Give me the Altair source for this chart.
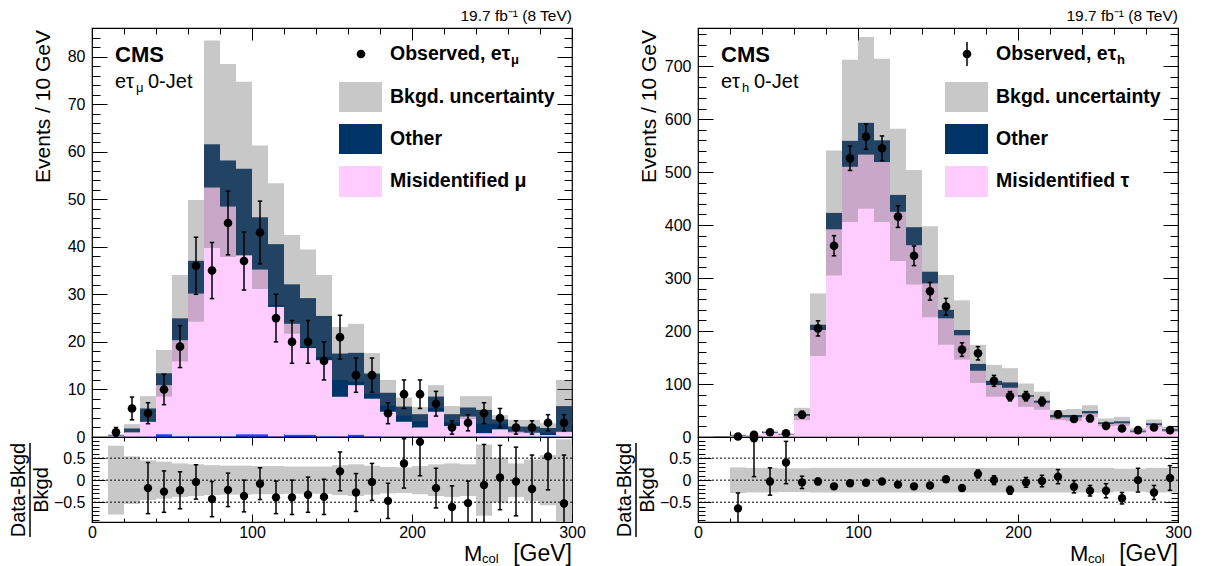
import altair as alt
import pandas as pd

FONT = "Liberation Sans"
PINK = "#ffccff"
NAVY = "#003366"
BLUE = "#2040ff"
BAND = "#616161"
RBAND = "#c8c8c8"

BIN_LO = [10, 20, 30, 40, 50, 60, 70, 80, 90, 100, 110, 120, 130, 140, 150,
          160, 170, 180, 190, 200, 210, 220, 230, 240, 250, 260, 270, 280, 290]

# ---------------- e tau_mu (left) ----------------
L_EWK = [0.1, 0.1, 0.1, 0.6, 0.15, 0.15, 0.15, 0.15, 0.6, 0.6, 0.15, 0.5, 0.5, 0.15, 0.15,
         0.5, 0.15, 0.1, 0.1, 0.1, 0.1, 0.1, 0.1, 0.1, 0.1, 0.1, 0.1, 0.1, 0.1]
L_MISID = [0.2, 0.9, 3.1, 10.3, 20.2, 30.0, 52.3, 48.3, 37.6, 34.6, 27.2, 23.3, 18.2, 16.0, 8.3,
           10.4, 7.9, 5.2, 3.1, 1.9, 5.2, 2.2, 4.2, 0.7, 1.5, 1.0, 0.8, 0.3, 1.0]
L_OTHER = [0.1, 0.8, 2.8, 2.5, 4.6, 6.9, 9.1, 9.7, 18.2, 11.0, 13.2, 8.3, 10.5, 9.3, 9.1,
           6.8, 5.3, 4.0, 3.2, 2.8, 3.2, 2.5, 1.9, 4.9, 2.1, 1.1, 1.3, 1.5, 5.4]
L_UNC = [0.2, 0.9, 2.6, 4.9, 9.1, 12.8, 21.8, 20.3, 18.3, 15.1, 12.8, 10.4, 10.2, 8.6, 5.6,
         6.1, 4.3, 2.7, 1.9, 1.5, 2.4, 1.7, 2.4, 2.9, 0.9, 1.4, 1.4, 1.0, 5.5]
L_DATA = [1, 6, 5, 10, 19, 36, 35, 45, 37, 43, 25, 20, 20, 16, 21,
          13, 13, 5, 9, 9, 7, 2, 3, 5, 4, 2, 2, 3, 3]
L_DERR = [1.0, 2.4, 2.2, 3.2, 4.4, 6.0, 5.9, 6.7, 6.1, 6.6, 5.0, 4.5, 4.5, 4.0, 4.6,
          3.6, 3.6, 2.2, 3.0, 3.0, 2.6, 1.4, 1.7, 2.2, 2.0, 1.4, 1.4, 1.7, 1.7]
L_RATIO = [None, None, -0.18, -0.26, -0.23, -0.04, -0.43, -0.22, -0.36, -0.08, -0.39, -0.39, -0.33, -0.38, 0.20,
           -0.28, -0.04, -0.47, 0.38, 0.87, -0.18, -0.61, -0.52, -0.11, 0.06, -0.03, -0.20, 0.54, -0.53]
L_RERR = [None, None, 0.58, 0.47, 0.42, 0.39, 0.40, 0.38, 0.36, 0.36, 0.37, 0.39, 0.40, 0.40, 0.44,
          0.43, 0.42, 0.40, 0.56, 0.77, 0.45, 0.48, 0.50, 0.92, 0.73, 0.78, 0.77, 0.76, 1.10]
L_RBAND = [0.78, 0.54, 0.45, 0.42, 0.38, 0.36, 0.34, 0.33, 0.33, 0.32, 0.32, 0.31, 0.31, 0.31, 0.34,
           0.36, 0.33, 0.30, 0.29, 0.32, 0.36, 0.38, 0.36, 0.81, 0.51, 0.38, 0.47, 0.57, 0.93]

# ---------------- e tau_h (right) ----------------
R_MISID = [0.5, 2, 1.5, 8, 4.5, 40, 202, 392, 510, 533, 519, 425, 362, 290, 224,
           192, 125, 98, 93, 76, 64.7, 37, 37, 44.6, 24.5, 25.8, 10, 22.6, 12]
R_OTHER = [0.5, 1, 0.5, 1.3, 0.7, 3.4, 10, 31, 49, 60, 41, 32, 34, 22, 16,
           10, 13, 8, 10, 3, 3.8, 4.5, 4.5, 4.4, 3.2, 3.8, 2, 3.2, 2.5]
R_UNC = [0.5, 1.5, 1, 2.7, 1.8, 11.6, 59, 118, 153, 162, 154, 125, 108, 86, 66,
         56, 36, 30, 27, 22, 17, 9.5, 11.3, 11, 7.3, 8.4, 4.4, 7.2, 5]
R_DATA = [None, 1, 4, 9, 7, 42, 205, 361, 526, 567, 545, 416, 342, 275, 246,
          165, 158, 106, 77, 77, 67, 43, 34, 35, 21, 16, 13, 18, 13]
R_DERR = [None, 1, 2, 3, 2.6, 6.5, 14.3, 19, 22.9, 23.8, 23.3, 20.4, 18.5, 16.6, 15.7,
          12.8, 12.6, 10.3, 8.8, 8.8, 8.2, 6.6, 5.8, 5.9, 4.6, 4, 3.6, 4.2, 3.6]
R_RATIO = [None, -0.64, 0.95, -0.03, 0.40, -0.05, -0.03, -0.14, -0.07, -0.06, -0.03, -0.10, -0.14, -0.12, 0.02,
           -0.18, 0.14, 0.00, -0.23, -0.05, -0.02, 0.08, -0.15, -0.24, -0.24, -0.41, 0.00, -0.28, 0.05]
R_RERR = [None, 0.35, 0.87, 0.31, 0.48, 0.14, 0.07, 0.05, 0.045, 0.045, 0.045, 0.05, 0.055, 0.06, 0.065,
          0.07, 0.09, 0.10, 0.09, 0.11, 0.13, 0.16, 0.14, 0.12, 0.16, 0.13, 0.27, 0.16, 0.28]
R_RBAND = [None, 0.29, 0.28, 0.28, 0.27, 0.27, 0.28, 0.28, 0.28, 0.28, 0.28, 0.28, 0.28, 0.28, 0.28,
           0.28, 0.28, 0.28, 0.28, 0.28, 0.28, 0.28, 0.28, 0.28, 0.28, 0.26, 0.26, 0.28, 0.28]

X_MAJOR = [0, 100, 200, 300]
X_MINOR = list(range(0, 301, 20))
RATIO_LINES = [-0.5, 0, 0.5]
RATIO_MAJOR = [-0.5, 0, 0.5]
RATIO_MINOR = [round(-0.9 + 0.1 * i, 1) for i in range(19)]

W = 480
H_MAIN = 409
H_RATIO = 85
RATIO_DOMAIN = [-0.95, 0.98]
PANEL_GAP = 126

DUMMY = pd.DataFrame({"a": [0]})


def axis_layers(xs, ys, xdom, ydom, xmaj, xmin, ymaj, ymin, xlab, ylab, xsz, ysz, yfmt):
    df = pd.DataFrame({"x": [xdom[0]], "y": [ydom[0]]})

    def mk(orient, vals, size, labels, fmt, pad):
        kw = dict(orient=orient, values=vals, tickSize=size, offset=-size, labels=labels,
                  domain=False, grid=False, title=None, tickColor="black", tickWidth=1,
                  labelFont=FONT, labelFontSize=16, labelColor="black", labelPadding=pad,
                  labelOverlap=False, labelFlush=False)
        if labels:
            kw["format"] = fmt
        return alt.Axis(**kw)

    specs = [
        ("bottom", xmaj, xsz[0], xlab, "left", ymaj, ysz[0], ylab),
        ("bottom", xmin, xsz[1], False, "left", ymin, ysz[1], False),
        ("top", xmaj, xsz[0], False, "right", ymaj, ysz[0], False),
        ("top", xmin, xsz[1], False, "right", ymin, ysz[1], False),
    ]
    out = []
    for xo, xv, xsize, xl, yo, yv, ysize, yl in specs:
        out.append(
            alt.Chart(df).mark_point(opacity=0).encode(
                x=alt.X("x:Q", scale=xs, axis=mk(xo, xv, xsize, xl, "d", 2)),
                y=alt.Y("y:Q", scale=ys, axis=mk(yo, yv, ysize, yl, yfmt, 7)),
            )
        )
    return out


def text(t, x, y, size, bold=False, align="left", baseline="middle", angle=0):
    kw = dict(text=t, font=FONT, fontSize=size, fontWeight="bold" if bold else "normal",
              align=align, baseline=baseline, color="black")
    if angle:
        kw["angle"] = angle
    return alt.Chart(DUMMY).mark_text(**kw).encode(x=alt.value(x), y=alt.value(y))


def build_panel(ewk, misid, other, unc, data, derr, ratio, rerr, rband, ymax,
                y_major, y_minor, chan_sub, misid_label, obs_bar):
    lo = BIN_LO
    hi = [v + 10 for v in lo]
    ctr = [v + 5 for v in lo]
    xs = alt.Scale(domain=[0, 300], nice=False, zero=False)
    ys = alt.Scale(domain=[0, ymax], nice=False, zero=True)
    rs = alt.Scale(domain=RATIO_DOMAIN, nice=False, zero=False)

    comps = []
    names = []
    colors = []
    if ewk is not None:
        comps.append(("EWK", ewk))
        names.append("EWK")
        colors.append(BLUE)
    comps.append(("Misidentified", misid))
    comps.append(("Other", other))
    names += ["Misidentified", "Other"]
    colors += [PINK, NAVY]

    rows = []
    for order, (name, vals) in enumerate(comps):
        for l, h, v in zip(lo, hi, vals):
            rows.append({"lo": l, "hi": h, "comp": name, "order": order, "value": v})
    long = pd.DataFrame(rows)

    stack = alt.Chart(long).transform_stack(
        stack="value", groupby=["lo"], as_=["y0", "y1"],
        sort=[alt.SortField("order", order="ascending")]
    ).mark_rect().encode(
        x=alt.X("lo:Q", scale=xs, axis=None), x2="hi:Q",
        y=alt.Y("y0:Q", scale=ys, axis=None), y2="y1:Q",
        color=alt.Color("comp:N", scale=alt.Scale(domain=names, range=colors), legend=None),
    )

    tot = pd.DataFrame({"lo": lo, "hi": hi, "unc": unc})
    tot["total"] = [sum(c[1][i] for c in comps) for i in range(len(lo))]
    band = alt.Chart(tot).transform_calculate(
        b0="max(datum.total - datum.unc, 0)", b1="datum.total + datum.unc"
    ).mark_rect(color=BAND, opacity=0.35).encode(
        x=alt.X("lo:Q", scale=xs, axis=None), x2="hi:Q",
        y=alt.Y("b0:Q", scale=ys, axis=None), y2="b1:Q",
    )

    dd = pd.DataFrame({"c": ctr, "d": data, "e": derr}).dropna()
    dbase = alt.Chart(dd).transform_calculate(
        dlo="max(datum.d - datum.e, 0)", dhi="datum.d + datum.e")
    ebar = dbase.mark_rule(color="black", strokeWidth=1.5).encode(
        x=alt.X("c:Q", scale=xs, axis=None),
        y=alt.Y("dlo:Q", scale=ys, axis=None), y2="dhi:Q")
    cap1 = dbase.mark_point(shape="stroke", size=20, color="black", strokeWidth=1.5, opacity=1).encode(
        x=alt.X("c:Q", scale=xs, axis=None), y=alt.Y("dlo:Q", scale=ys, axis=None))
    cap2 = dbase.mark_point(shape="stroke", size=20, color="black", strokeWidth=1.5, opacity=1).encode(
        x=alt.X("c:Q", scale=xs, axis=None), y=alt.Y("dhi:Q", scale=ys, axis=None))
    pts = alt.Chart(dd).mark_circle(size=75, color="black", opacity=1).encode(
        x=alt.X("c:Q", scale=xs, axis=None), y=alt.Y("d:Q", scale=ys, axis=None))

    # legend (drawn inside the frame)
    leg = []
    if obs_bar:
        leg.append(alt.Chart(DUMMY).mark_rule(color="black", strokeWidth=1.5).encode(
            x=alt.value(269), y=alt.value(14), y2=alt.value(38)))
    leg.append(alt.Chart(DUMMY).mark_circle(size=75, color="black", opacity=1).encode(
        x=alt.value(269), y=alt.value(26)))
    leg.append(alt.Chart(DUMMY).mark_rect(color=BAND, opacity=0.35).encode(
        x=alt.value(247), x2=alt.value(290), y=alt.value(54), y2=alt.value(84)))
    leg.append(alt.Chart(DUMMY).mark_rect(color=NAVY).encode(
        x=alt.value(247), x2=alt.value(290), y=alt.value(96), y2=alt.value(126)))
    leg.append(alt.Chart(DUMMY).mark_rect(color=PINK).encode(
        x=alt.value(247), x2=alt.value(290), y=alt.value(138), y2=alt.value(169)))
    leg.append(text("Observed, eτ", 298, 26, 19.5, bold=True))
    leg.append(text(chan_sub, 419, 32, 13, bold=True))
    leg.append(text("Bkgd. uncertainty", 298, 69, 19.5, bold=True))
    leg.append(text("Other", 298, 111, 19.5, bold=True))
    leg.append(text(misid_label, 298, 153, 19.5, bold=True))

    labels = [
        text("CMS", 23, 27, 22, bold=True),
        text("eτ", 23, 54, 20),
        text(chan_sub, 44, 60, 13),
        text("0-Jet", 56, 54, 20),
        text("19.7 fb⁻¹ (8 TeV)", 480, -4, 15.5, align="right", baseline="bottom"),
        text("Events / 10 GeV", -48, 2, 21, align="right", angle=270),
    ]

    axes_main = axis_layers(xs, ys, [0, 300], [0, ymax], X_MAJOR, X_MINOR, y_major, y_minor,
                            False, True, (12, 6), (15, 8), "d")

    main = alt.layer(stack, band, *leg, ebar, cap1, cap2, pts, *labels, *axes_main).resolve_scale(
        x="shared", y="shared").resolve_axis(x="independent", y="independent").properties(
        width=W, height=H_MAIN)

    # ratio panel
    rb = pd.DataFrame({"lo": lo, "hi": hi, "u": rband}).dropna()
    rband_l = alt.Chart(rb).transform_calculate(u0="-datum.u", u1="datum.u").mark_rect(
        color=RBAND, clip=True).encode(
        x=alt.X("lo:Q", scale=xs, axis=None), x2="hi:Q",
        y=alt.Y("u0:Q", scale=rs, axis=None), y2="u1:Q")
    rlines = alt.Chart(pd.DataFrame({"y": RATIO_LINES})).mark_rule(
        color="black", strokeWidth=1, strokeDash=[2, 2]).encode(
        y=alt.Y("y:Q", scale=rs, axis=None))
    rd = pd.DataFrame({"c": ctr, "r": ratio, "e": rerr}).dropna()
    rbase = alt.Chart(rd).transform_calculate(rlo="datum.r - datum.e", rhi="datum.r + datum.e")
    rbar = rbase.mark_rule(color="black", strokeWidth=1.5, clip=True).encode(
        x=alt.X("c:Q", scale=xs, axis=None),
        y=alt.Y("rlo:Q", scale=rs, axis=None), y2="rhi:Q")
    rcap1 = rbase.mark_point(shape="stroke", size=20, color="black", strokeWidth=1.5, opacity=1,
                             clip=True).encode(
        x=alt.X("c:Q", scale=xs, axis=None), y=alt.Y("rlo:Q", scale=rs, axis=None))
    rcap2 = rbase.mark_point(shape="stroke", size=20, color="black", strokeWidth=1.5, opacity=1,
                             clip=True).encode(
        x=alt.X("c:Q", scale=xs, axis=None), y=alt.Y("rhi:Q", scale=rs, axis=None))
    rpts = alt.Chart(rd).mark_circle(size=70, color="black", opacity=1).encode(
        x=alt.X("c:Q", scale=xs, axis=None), y=alt.Y("r:Q", scale=rs, axis=None))

    rlabels = [
        text("Data-Bkgd", -73, 53, 20, align="center", angle=270),
        alt.Chart(DUMMY).mark_rule(color="black", strokeWidth=1.5).encode(
            x=alt.value(-62), y=alt.value(6), y2=alt.value(100)),
        text("Bkgd", -50, 53, 20, align="center", angle=270),
        text("M", 372, 123.5, 22, baseline="alphabetic"),
        text("col", 390, 126, 13, baseline="alphabetic"),
        text("[GeV]", 480, 123.5, 23, align="right", baseline="alphabetic"),
    ]
    axes_ratio = axis_layers(xs, rs, [0, 300], RATIO_DOMAIN, X_MAJOR, X_MINOR, RATIO_MAJOR, RATIO_MINOR,
                             True, True, (8, 4), (13, 7), "~g")

    ratio_view = alt.layer(rband_l, rlines, rbar, rcap1, rcap2, rpts, *rlabels, *axes_ratio).resolve_scale(
        x="shared", y="shared").resolve_axis(x="independent", y="independent").properties(
        width=W, height=H_RATIO)

    return alt.vconcat(main, ratio_view, spacing=0, bounds="flush")


left = build_panel(L_EWK, L_MISID, L_OTHER, L_UNC, L_DATA, L_DERR, L_RATIO, L_RERR, L_RBAND,
                   86, list(range(0, 81, 10)), list(range(0, 87, 2)), "μ", "Misidentified μ", False)
right = build_panel(None, R_MISID, R_OTHER, R_UNC, R_DATA, R_DERR, R_RATIO, R_RERR, R_RBAND,
                    772, list(range(0, 701, 100)), list(range(0, 772, 20)), "h", "Misidentified τ", True)

# with flush bounds the nested column counts as zero width, so the spacing is the
# distance between the two plot areas' left edges
chart = alt.hconcat(left, right, spacing=W + PANEL_GAP, bounds="flush").properties(
    padding={"left": 0, "top": 0, "right": 5, "bottom": 0}
).configure(font=FONT).configure_view(stroke="black", strokeWidth=1.2)

chart.save("out.html", embed_options={"renderer": "svg", "actions": False})
